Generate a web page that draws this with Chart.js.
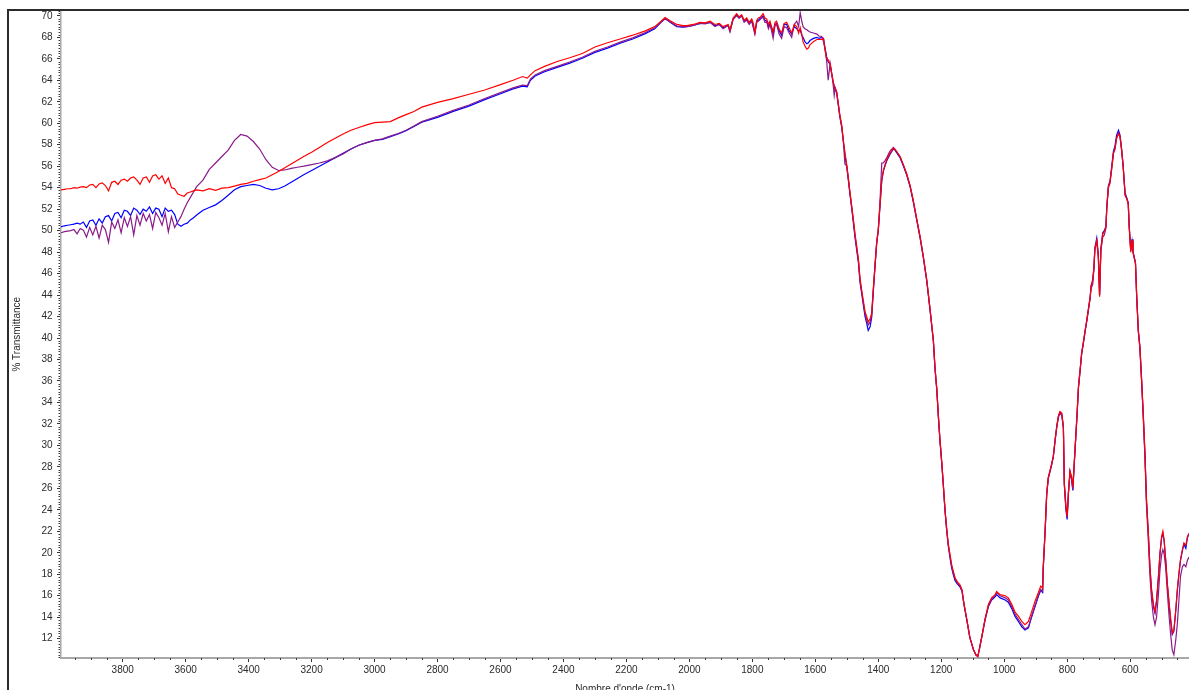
<!DOCTYPE html>
<html>
<head>
<meta charset="utf-8">
<title>Spectre IR</title>
<script src="https://cdn.jsdelivr.net/npm/chart.js@4/dist/chart.umd.min.js"></script>
<style>
  html, body { margin: 0; padding: 0; background: #ffffff; }
  canvas { display: block; }
</style>
</head>
<body>
<canvas id="spectre" width="1189" height="690"></canvas>
<script>
// Wavenumbers (cm-1), shared by the three spectra
const wavenumbers = [
  3996,3985,3975,3965,3955,3945,3935,3925,3915,3905,3895,3885,3875,3865,3855,3845,3835,3825,3815,3805,
  3795,3785,3775,3765,3755,3745,3735,3725,3715,3705,3695,3685,3675,3665,3655,3645,3635,3625,3615,3605,
  3595,3585,3575,3565,
  3545,3525,3505,3485,3465,3445,3425,3405,3385,3365,3345,3325,3305,3285,3265,3245,3225,3200,3175,3150,
  3125,3100,3075,3050,3025,3000,2975,2950,2925,2900,2875,2850,2800,2750,2700,2650,2600,2560,2530,2515,
  2505,2490,2460,2420,2380,2340,2300,2260,2220,2180,2140,2110,2090,
  2077,2061,2040,2020,2008,1988,1966,1950,1934,1919,1905,1893,1877,1871,1861,1850,1842,1834,1826,1818,
  1810,1802,1797,1792,1786,1781,1774,1766,1760,1754,1749,1744,1739,1734,1728,1723,1715,1707,1699,1691,
  1683,1675,1667,1659,1653,1648,1643,1639,1633,1627,1622,1617,1606,1595,1588,
  1580,1574,1569,1564,1559,1553,1548,1543,1540,1537,
  1532,1527,1522,1516,1511,1506,1500,1495,1490,1484,
  1479,1474,1469,1463,1458,1453,1447,1442,1437,1432,
  1426,1421,1416,1410,1405,1400,1395,1389,1384,1379,
  1373,1363,1352,1347,1340,1331,1320,1310,1299,1289,
  1278,1267,1257,1246,1236,1225,1220,1214,1209,1204,
  1198,1193,1188,1183,1178,1172,1167,1162,1156,1149,
  1140,1134,1128,1119,1109,1098,1090,1084,1079,1071,
  1061,1050,1040,1029,1024,1013,997,987,976,966,
  955,944,934,923,913,902,892,884,878,876,
  870,865,860,854,849,844,838,833,828,823,
  817,812,809,804,800,796,791,786,782,777,
  769,764,759,754,749,743,738,733,727,724,
  719,715,712,706,701,697,693,687,682,677,
  674,669,664,658,653,648,643,637,632,627,
  622,616,611,606,603,598,594,591,588,583,
  579,574,569,563,558,553,548,542,537,532,
  526,521,516,510,505,500,496,492,487,482,
  476,471,466,461,455,450,445,440,434,429,
  423,418,413
];

// % transmittance, red spectrum
const transRed = [
  53.8,53.85,53.9,53.9,54.0,53.95,54.05,54.1,54.0,54.25,54.3,54.0,54.35,54.45,54.2,53.7,54.5,54.6,54.3,54.7,
  54.8,54.6,54.9,55.0,54.7,54.3,54.9,55.0,54.5,55.1,55.2,54.8,55.1,54.4,54.9,54.0,53.9,53.4,53.3,53.2,
  53.5,53.6,53.7,53.8,
  53.7,53.9,53.75,53.95,54.0,54.15,54.3,54.4,54.6,54.75,54.9,55.2,55.5,55.85,56.2,56.55,56.9,57.3,57.75,58.2,
  58.6,59.0,59.35,59.6,59.85,60.05,60.1,60.15,60.5,60.8,61.1,61.5,61.95,62.3,62.7,63.1,63.6,64.0,64.35,64.2,
  64.5,64.9,65.3,65.75,66.1,66.5,67.1,67.5,67.85,68.2,68.6,69.0,69.5,
  69.85,69.55,69.2,69.1,69.1,69.2,69.4,69.35,69.5,69.2,69.3,69.0,69.2,68.7,69.8,70.2,69.9,70.1,69.6,69.8,
  69.4,69.7,69.3,68.5,69.6,69.8,69.9,70.2,69.8,69.7,69.2,69.5,69.0,68.5,69.4,69.5,68.8,68.4,69.3,69.4,
  68.9,68.4,69.2,69.0,68.4,68.9,68.3,67.6,67.2,66.9,67.0,67.3,67.6,67.8,67.8,
  67.8,67.9,66.8,66.0,65.9,65.55,64.6,63.85,63.5,63.3,
  62.9,61.8,60.75,59.8,58.4,57.3,56.1,54.9,53.6,52.2,
  51.0,49.7,48.65,47.3,45.55,44.5,43.4,42.45,42.0,41.5,
  41.8,42.3,44.5,46.95,48.95,50.05,52.2,54.7,55.6,56.1,
  56.6,57.2,57.65,57.55,57.3,56.9,56.1,55.3,54.2,52.85,
  51.1,49.4,47.6,45.4,42.8,39.8,37.3,35.2,32.7,30.5,
  28.3,26.2,24.0,22.3,20.9,19.8,18.9,18.3,17.65,17.3,
  17.0,16.55,15.3,13.8,12.1,11.0,10.5,10.35,11.0,12.2,
  13.8,15.2,15.8,16.1,16.4,16.1,16.0,15.8,15.2,14.5,
  14.1,13.6,13.3,13.6,14.5,15.5,16.25,16.9,16.7,18.7,
  22.1,25.5,27.0,27.7,28.3,29.0,30.6,31.75,32.7,33.15,
  33.0,31.75,26.5,24.4,23.4,25.6,27.6,27.1,26.1,28.65,
  32.7,35.5,37.0,38.6,39.5,40.7,41.6,42.6,43.8,44.9,
  45.4,46.6,48.3,49.1,47.6,43.85,48.2,49.7,49.9,50.3,
  52.2,54.1,54.5,55.9,57.2,57.65,58.6,59.05,58.7,57.5,
  55.9,53.3,53.0,52.5,50.35,48.0,49.1,48.0,47.6,47.0,
  43.8,40.7,39.2,35.8,32.7,29.3,24.9,21.8,18.7,16.6,
  15.2,14.5,15.6,17.8,20.0,21.5,22.0,21.2,19.35,17.2,
  15.3,13.8,12.5,12.8,14.7,16.6,18.1,19.35,20.3,20.9,
  20.7,21.5,21.8
];

// % transmittance, blue spectrum
const transBlue = [
  50.35,50.45,50.5,50.55,50.6,50.7,50.6,50.8,50.3,50.9,51.0,50.5,51.1,50.7,51.3,51.4,50.9,51.6,51.7,51.2,
  51.9,51.8,51.4,52.1,51.9,51.5,52.0,51.8,52.2,51.6,52.1,52.0,51.3,52.1,51.8,51.9,51.5,50.6,50.4,50.6,
  50.7,51.0,51.2,51.45,
  51.9,52.15,52.4,52.8,53.3,53.8,54.1,54.2,54.3,54.2,53.95,53.8,53.9,54.15,54.5,54.85,55.2,55.6,56.0,56.4,
  56.8,57.2,57.6,57.95,58.2,58.4,58.5,58.75,59.0,59.3,59.7,60.1,60.55,61.1,61.6,62.2,62.75,63.2,63.45,63.4,
  64.0,64.4,64.8,65.2,65.6,66.05,66.6,67.0,67.45,67.85,68.35,68.8,69.4,
  69.75,69.4,69.0,68.95,69.0,69.1,69.3,69.3,69.4,69.1,69.2,68.9,69.1,68.6,69.7,70.1,69.8,70.0,69.5,69.7,
  69.3,69.6,69.0,68.4,69.5,69.6,69.8,70.0,69.6,69.5,69.0,69.3,68.9,68.3,69.2,69.3,68.6,68.2,69.2,69.2,
  68.6,68.3,69.0,68.8,68.6,68.7,68.2,68.0,67.6,67.4,67.5,67.7,67.9,68.0,67.9,
  68.0,67.9,67.0,66.2,65.7,65.5,64.6,63.8,63.4,63.2,
  62.8,61.7,60.6,59.6,58.3,57.1,55.9,54.7,53.4,52.0,
  50.7,49.4,48.3,47.0,45.2,44.2,43.0,42.0,41.4,40.7,
  41.05,41.9,44.2,46.8,48.8,50.0,52.1,54.6,55.5,56.0,
  56.5,57.1,57.6,57.5,57.2,56.8,56.0,55.2,54.1,52.7,
  51.0,49.3,47.5,45.3,42.7,39.7,37.2,35.1,32.6,30.4,
  28.2,26.1,23.9,22.2,20.7,19.5,18.6,18.0,17.4,17.1,
  16.8,16.4,15.2,13.8,12.1,11.0,10.5,10.35,11.0,12.2,
  13.7,15.0,15.6,15.9,16.1,15.8,15.6,15.4,14.8,14.1,
  13.6,13.1,12.8,13.0,14.0,15.0,15.9,16.5,16.3,18.5,
  22.0,25.4,26.9,27.6,28.2,28.9,30.5,31.7,32.6,33.0,
  32.8,31.6,26.3,24.0,23.1,25.5,27.5,26.8,25.8,28.5,
  32.6,35.4,36.9,38.5,39.4,40.6,41.5,42.5,43.7,44.8,
  45.3,46.5,48.4,49.3,47.8,44.0,48.3,49.8,50.0,50.4,
  52.3,54.2,54.6,56.1,57.4,57.9,58.9,59.35,58.9,57.6,
  56.0,53.5,53.1,52.6,50.5,48.2,49.2,48.1,47.7,47.0,
  43.8,40.7,39.2,35.8,32.7,29.3,24.9,21.7,18.6,16.5,
  15.0,14.4,15.5,17.8,20.0,21.4,21.8,21.1,19.3,17.1,
  15.1,13.6,12.4,12.7,14.6,16.5,18.0,19.3,20.2,20.8,
  20.4,21.4,21.8
];

// % transmittance, purple spectrum
const transPurple = [
  49.8,49.9,49.95,50.0,50.1,49.7,50.2,50.05,49.4,50.3,49.6,50.4,49.3,50.5,50.1,48.9,50.8,50.2,51.0,49.8,
  51.2,50.4,51.3,49.6,51.4,50.5,51.6,50.9,51.5,50.2,51.7,51.2,50.5,51.6,49.9,51.3,50.3,50.8,51.3,52.0,
  52.6,53.1,53.6,54.1,
  54.7,55.7,56.3,56.9,57.5,58.4,58.95,58.8,58.3,57.6,56.6,55.9,55.6,55.65,55.8,55.9,56.0,56.15,56.3,56.5,
  56.8,57.15,57.6,57.95,58.2,58.4,58.55,58.8,59.05,59.35,59.75,60.15,60.65,61.2,61.7,62.3,62.85,63.3,63.55,63.5,
  64.1,64.5,64.9,65.3,65.7,66.15,66.7,67.1,67.55,67.95,68.45,68.9,69.45,
  69.7,69.45,69.05,69.0,69.0,69.1,69.3,69.25,69.4,69.0,69.2,68.8,69.1,68.5,69.7,70.0,69.8,70.0,69.4,69.6,
  69.2,69.5,68.9,68.3,69.4,69.5,69.7,69.9,69.4,69.4,68.8,69.2,68.6,67.9,69.1,69.2,68.3,67.9,69.0,68.9,
  68.4,68.0,69.2,69.5,69.0,70.3,69.5,69.0,68.8,68.7,68.6,68.5,68.4,68.3,68.1,
  68.1,67.6,66.9,65.8,64.0,65.6,64.7,63.5,62.6,63.3,
  62.9,61.8,60.7,59.7,58.4,56.2,56.0,54.8,53.5,52.1,
  50.9,49.6,48.5,47.2,45.4,44.4,43.2,42.3,41.7,41.2,
  41.5,42.1,44.4,46.9,48.9,50.1,52.4,56.3,56.3,56.5,
  56.8,57.4,57.75,57.6,57.3,56.9,56.1,55.3,54.2,52.8,
  51.1,49.4,47.6,45.4,42.8,39.8,37.3,35.2,32.7,30.5,
  28.3,26.2,24.0,22.3,20.8,19.7,18.8,18.2,17.6,17.2,
  16.9,16.5,15.3,13.8,12.1,11.0,10.5,10.35,11.0,12.2,
  13.8,15.1,15.7,16.0,16.3,16.0,15.8,15.6,15.0,14.3,
  13.8,13.3,12.9,13.1,14.1,15.1,16.0,16.6,16.4,18.6,
  22.1,25.5,27.0,27.7,28.3,29.0,30.6,31.8,32.7,33.1,
  32.9,31.7,26.4,24.2,23.3,25.6,27.6,26.9,25.9,28.6,
  32.7,35.5,37.0,38.6,39.5,40.7,41.6,42.6,43.8,44.6,
  45.0,46.4,48.2,49.0,47.5,44.0,48.1,49.4,49.6,50.2,
  52.1,54.0,54.4,55.9,57.2,57.6,58.6,59.1,58.7,57.5,
  55.9,53.3,53.0,52.5,50.4,48.1,49.0,48.0,47.6,46.9,
  43.7,40.6,39.0,35.6,32.4,28.9,24.4,21.0,17.8,15.6,
  14.0,13.3,14.0,16.2,18.5,19.8,20.3,19.9,18.6,16.4,
  14.0,12.3,10.9,10.5,11.9,13.4,15.6,17.8,18.7,18.9,
  18.7,19.3,19.6
];

// Axis tick labels
const xTickLabels = [3800,3600,3400,3200,3000,2800,2600,2400,2200,2000,1800,1600,1400,1200,1000,800,600];
const yTickLabels = [12,14,16,18,20,22,24,26,28,30,32,34,36,38,40,42,44,46,48,50,52,54,56,58,60,62,64,66,68,70];

const toPoints = (vals) => wavenumbers.map((w, i) => ({ x: w, y: vals[i] }));

// Outer frame plus the small intermediate ticks along both axes
const frameAndMinorTicks = {
  id: 'frameAndMinorTicks',
  afterDraw(chart) {
    const { ctx, chartArea } = chart;
    const xs = chart.scales.x, ys = chart.scales.y;
    ctx.save();
    ctx.fillStyle = '#3a3a3a';
    for (let v = 10.25; v <= ys.max; v += 0.25) {
      if (Math.abs(v / 2 - Math.round(v / 2)) < 1e-6) continue;
      const py = Math.round(ys.getPixelForValue(v));
      ctx.fillRect(chartArea.left - 2.5, py, 1.5, 1);
    }
    for (let w = 450; w < xs.max; w += 50) {
      if (w % 200 === 0) continue;
      const px = Math.round(xs.getPixelForValue(w));
      ctx.fillRect(px, chartArea.bottom, 1, 2);
    }
    ctx.strokeStyle = '#2b2b2b';
    ctx.lineWidth = 2;
    ctx.beginPath();
    ctx.moveTo(8, chart.height);
    ctx.lineTo(8, 10);
    ctx.lineTo(chart.width, 10);
    ctx.stroke();
    ctx.restore();
  }
};

const tickFont = { family: 'Liberation Sans, Arial, sans-serif', size: 10 };

new Chart(document.getElementById('spectre'), {
  type: 'line',
  data: {
    datasets: [
      { label: 'rouge', data: toPoints(transRed), borderColor: '#ff0000' },
      { label: 'violet', data: toPoints(transPurple), borderColor: '#8a1a8a' },
      { label: 'bleu', data: toPoints(transBlue), borderColor: '#0000ff' }
    ]
  },
  options: {
    responsive: false,
    animation: false,
    layout: { padding: { left: 0, top: 10, right: 0, bottom: 0 } },
    elements: {
      point: { radius: 0 },
      line: { borderWidth: 1.2, tension: 0, fill: false }
    },
    plugins: { legend: { display: false }, tooltip: { enabled: false } },
    scales: {
      x: {
        type: 'linear',
        reverse: true,
        min: 413,
        max: 3996,
        afterFit: (s) => { s.height = 32; },
        afterBuildTicks: (s) => { s.ticks = xTickLabels.map(v => ({ value: v })); },
        ticks: { font: tickFont, color: '#2a2a2a', padding: 2, maxRotation: 0, autoSkip: false, callback: (v) => String(v) },
        grid: { drawOnChartArea: false, drawTicks: true, tickLength: 4, tickColor: '#333333', tickWidth: 1 },
        border: { display: true, color: '#a8a8a8', width: 2 },
        title: { display: true, text: "Nombre d'onde (cm-1)", font: tickFont, color: '#2a2a2a', padding: { top: 0, bottom: -5 } }
      },
      y: {
        type: 'linear',
        min: 10.2,
        max: 70.5,
        afterFit: (s) => { s.width = 61; },
        afterBuildTicks: (s) => { s.ticks = yTickLabels.map(v => ({ value: v })); },
        ticks: { font: tickFont, color: '#2a2a2a', padding: 4.5, autoSkip: false, callback: (v) => String(v) },
        grid: { drawOnChartArea: false, drawTicks: true, tickLength: 4, tickColor: '#333333', tickWidth: 1 },
        border: { display: true, color: '#a8a8a8', width: 1.5 },
        title: { display: true, text: '% Transmittance', font: tickFont, color: '#2a2a2a', padding: { top: 11, bottom: 0 } }
      }
    }
  },
  plugins: [frameAndMinorTicks]
});
</script>
</body>
</html>
